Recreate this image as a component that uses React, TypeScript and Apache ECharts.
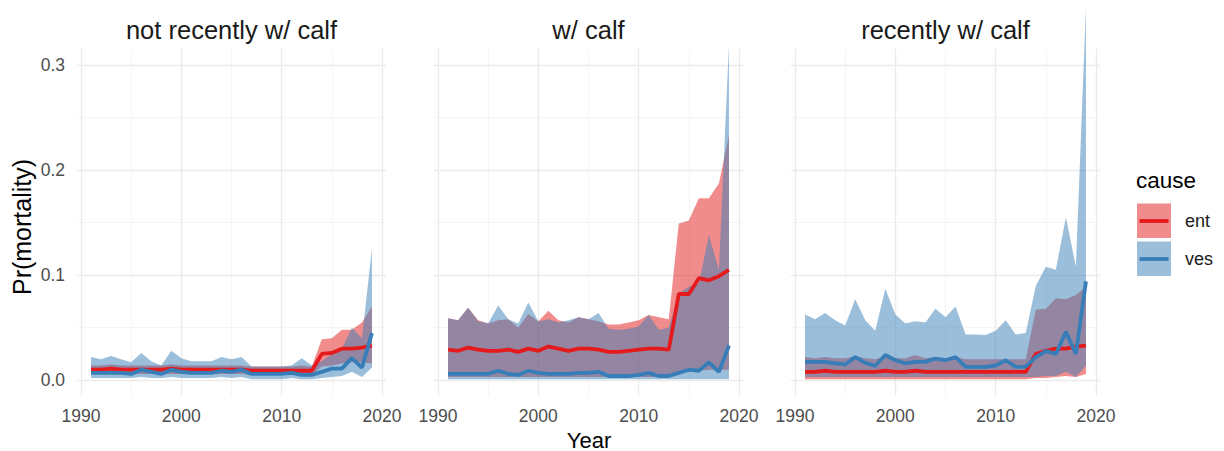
import React, { useEffect, useRef } from "react";
import * as echarts from "echarts";

const FONT = "'Liberation Sans', Arial, sans-serif";

const years = [1991, 1992, 1993, 1994, 1995, 1996, 1997, 1998, 1999, 2000, 2001, 2002, 2003, 2004, 2005, 2006, 2007, 2008, 2009, 2010, 2011, 2012, 2013, 2014, 2015, 2016, 2017, 2018, 2019];
const facetTitles = ["not recently w/ calf", "w/ calf", "recently w/ calf"];
const causes = ["ent", "ves"];
const xTicks = [1990, 2000, 2010, 2020];
const yTicks = [0, 0.1, 0.2, 0.3];
const xMinor = [1995, 2005, 2015];
const yMinor = [0.05, 0.15, 0.25];

// Panel 1: not recently w/ calf
const ent1 = [0.010, 0.010, 0.011, 0.010, 0.010, 0.010, 0.010, 0.010, 0.011, 0.010, 0.010, 0.010, 0.010, 0.010, 0.010, 0.010, 0.009, 0.009, 0.009, 0.009, 0.009, 0.009, 0.009, 0.025, 0.026, 0.030, 0.030, 0.031, 0.033];
const ent1Hi = [0.014, 0.014, 0.015, 0.014, 0.014, 0.014, 0.014, 0.014, 0.015, 0.014, 0.014, 0.014, 0.014, 0.014, 0.014, 0.014, 0.013, 0.013, 0.013, 0.013, 0.013, 0.014, 0.013, 0.039, 0.040, 0.048, 0.048, 0.055, 0.070];
const ent1Lo = [0.006, 0.006, 0.006, 0.006, 0.006, 0.006, 0.006, 0.006, 0.006, 0.006, 0.006, 0.006, 0.006, 0.006, 0.006, 0.006, 0.005, 0.005, 0.005, 0.005, 0.005, 0.005, 0.005, 0.013, 0.014, 0.016, 0.017, 0.017, 0.016];
const ves1 = [0.007, 0.007, 0.007, 0.007, 0.006, 0.010, 0.008, 0.006, 0.010, 0.008, 0.007, 0.007, 0.007, 0.009, 0.008, 0.010, 0.006, 0.006, 0.006, 0.006, 0.007, 0.005, 0.005, 0.008, 0.011, 0.011, 0.021, 0.012, 0.045];
const ves1Hi = [0.022, 0.020, 0.023, 0.020, 0.017, 0.026, 0.018, 0.014, 0.028, 0.021, 0.018, 0.018, 0.018, 0.022, 0.020, 0.022, 0.013, 0.013, 0.013, 0.013, 0.014, 0.021, 0.014, 0.018, 0.025, 0.030, 0.050, 0.040, 0.125];
const ves1Lo = [0.002, 0.002, 0.002, 0.002, 0.002, 0.003, 0.002, 0.002, 0.003, 0.002, 0.002, 0.002, 0.002, 0.003, 0.002, 0.003, 0.001, 0.001, 0.001, 0.001, 0.002, 0.001, 0.001, 0.002, 0.003, 0.004, 0.008, 0.003, 0.012];

// Panel 2: w/ calf
const ent2 = [0.029, 0.028, 0.031, 0.029, 0.028, 0.028, 0.029, 0.027, 0.030, 0.028, 0.032, 0.030, 0.028, 0.030, 0.030, 0.029, 0.027, 0.027, 0.028, 0.029, 0.030, 0.030, 0.029, 0.082, 0.082, 0.097, 0.095, 0.099, 0.105];
const ent2Hi = [0.059, 0.057, 0.069, 0.057, 0.054, 0.057, 0.058, 0.050, 0.063, 0.056, 0.066, 0.057, 0.055, 0.060, 0.058, 0.056, 0.053, 0.053, 0.055, 0.057, 0.062, 0.060, 0.058, 0.149, 0.152, 0.173, 0.173, 0.187, 0.233];
const ent2Lo = [0.003, 0.003, 0.003, 0.003, 0.003, 0.003, 0.003, 0.003, 0.003, 0.003, 0.003, 0.003, 0.003, 0.003, 0.003, 0.003, 0.003, 0.003, 0.003, 0.003, 0.003, 0.003, 0.003, 0.008, 0.008, 0.009, 0.010, 0.010, 0.010];
const ves2 = [0.006, 0.006, 0.006, 0.006, 0.006, 0.009, 0.006, 0.005, 0.009, 0.007, 0.006, 0.006, 0.006, 0.007, 0.007, 0.008, 0.004, 0.004, 0.004, 0.005, 0.007, 0.004, 0.004, 0.007, 0.010, 0.009, 0.017, 0.008, 0.033];
const ves2Hi = [0.059, 0.057, 0.069, 0.056, 0.054, 0.071, 0.058, 0.054, 0.074, 0.056, 0.058, 0.055, 0.057, 0.060, 0.058, 0.064, 0.049, 0.048, 0.049, 0.051, 0.062, 0.048, 0.050, 0.083, 0.089, 0.092, 0.138, 0.105, 0.319];
const ves2Lo = [0.001, 0.001, 0.001, 0.001, 0.001, 0.001, 0.001, 0.001, 0.001, 0.001, 0.001, 0.001, 0.001, 0.001, 0.001, 0.001, 0.001, 0.001, 0.001, 0.001, 0.001, 0.001, 0.001, 0.001, 0.001, 0.001, 0.001, 0.001, 0.001];

// Panel 3: recently w/ calf
const ent3 = [0.008, 0.008, 0.009, 0.008, 0.008, 0.008, 0.008, 0.008, 0.009, 0.008, 0.008, 0.009, 0.008, 0.008, 0.008, 0.008, 0.008, 0.008, 0.008, 0.008, 0.008, 0.008, 0.008, 0.025, 0.028, 0.030, 0.030, 0.032, 0.033];
const ent3Hi = [0.022, 0.021, 0.022, 0.021, 0.021, 0.023, 0.021, 0.020, 0.023, 0.021, 0.021, 0.024, 0.021, 0.022, 0.021, 0.022, 0.020, 0.020, 0.020, 0.020, 0.020, 0.020, 0.020, 0.067, 0.068, 0.078, 0.077, 0.081, 0.089];
const ent3Lo = [0.001, 0.001, 0.001, 0.001, 0.001, 0.001, 0.001, 0.001, 0.001, 0.001, 0.001, 0.001, 0.001, 0.001, 0.001, 0.001, 0.001, 0.001, 0.001, 0.001, 0.001, 0.001, 0.001, 0.002, 0.002, 0.003, 0.004, 0.003, 0.006];
const ves3 = [0.0175, 0.0175, 0.0175, 0.016, 0.015, 0.022, 0.0165, 0.0137, 0.024, 0.019, 0.016, 0.0175, 0.0175, 0.0206, 0.019, 0.022, 0.0127, 0.0127, 0.0127, 0.014, 0.019, 0.0127, 0.013, 0.022, 0.0276, 0.025, 0.046, 0.025, 0.094];
const ves3Hi = [0.0625, 0.058, 0.064, 0.057, 0.052, 0.077, 0.057, 0.047, 0.087, 0.0625, 0.054, 0.056, 0.055, 0.068, 0.060, 0.070, 0.0435, 0.0435, 0.043, 0.047, 0.057, 0.0435, 0.045, 0.0895, 0.108, 0.105, 0.155, 0.108, 0.355];
const ves3Lo = [0.003, 0.003, 0.003, 0.003, 0.003, 0.003, 0.003, 0.003, 0.003, 0.003, 0.003, 0.003, 0.003, 0.003, 0.003, 0.003, 0.003, 0.003, 0.003, 0.003, 0.003, 0.003, 0.003, 0.003, 0.004, 0.004, 0.008, 0.003, 0.014];

const panels = [
  { title: facetTitles[0], ent: [ent1, ent1Lo, ent1Hi], ves: [ves1, ves1Lo, ves1Hi] },
  { title: facetTitles[1], ent: [ent2, ent2Lo, ent2Hi], ves: [ves2, ves2Lo, ves2Hi] },
  { title: facetTitles[2], ent: [ent3, ent3Lo, ent3Hi], ves: [ves3, ves3Lo, ves3Hi] },
];

const RED = "#E41A1C";
const BLUE = "#377EB8";
const RED_FILL = "rgba(228,26,28,0.5)";
const BLUE_FILL = "rgba(55,126,184,0.5)";

const GRID_LEFTS = [77, 434, 791];
const GRID_TOP = 49;
const GRID_W = 309;
const GRID_H = 347;

function ribbon(i: number, lo: number[], hi: number[], fill: string) {
  return {
    type: "custom",
    xAxisIndex: i,
    yAxisIndex: i,
    silent: true,
    clip: false,
    z: 2,
    data: [[years[0], lo[0]]],
    renderItem: (params: any, api: any) => {
      const pts: number[][] = [];
      for (let k = 0; k < years.length; k++) pts.push(api.coord([years[k], hi[k]]));
      for (let k = years.length - 1; k >= 0; k--) pts.push(api.coord([years[k], lo[k]]));
      return { type: "polygon", shape: { points: pts }, style: { fill } };
    },
  };
}

function line(i: number, vals: number[], color: string) {
  return {
    type: "line",
    xAxisIndex: i,
    yAxisIndex: i,
    silent: true,
    showSymbol: false,
    symbol: "none",
    z: 3,
    lineStyle: { color, width: 3.8 },
    data: years.map((y, k) => [y, vals[k]]),
  };
}

function gridLines(i: number) {
  const major = { color: "#EBEBEB", width: 1.4, type: "solid" };
  const minor = { color: "#F2F2F2", width: 0.8, type: "solid" };
  return {
    type: "line",
    xAxisIndex: i,
    yAxisIndex: i,
    silent: true,
    z: 0,
    data: [],
    markLine: {
      silent: true,
      symbol: ["none", "none"],
      label: { show: false },
      z: 0,
      data: [
        ...xMinor.map((v) => ({ xAxis: v, lineStyle: minor })),
        ...yMinor.map((v) => ({ yAxis: v, lineStyle: minor })),
        ...xTicks.map((v) => ({ xAxis: v, lineStyle: major })),
        ...yTicks.map((v) => ({ yAxis: v, lineStyle: major })),
      ],
    },
  };
}

export default function App() {
  const ref = useRef<HTMLDivElement>(null);
  useEffect(() => {
    if (!ref.current) return;
    const chart = echarts.init(ref.current, undefined, { renderer: "svg" });
    const series: any[] = [];
    panels.forEach((p, i) => {
      series.push(gridLines(i));
      series.push(ribbon(i, p.ent[1], p.ent[2], RED_FILL));
      series.push(ribbon(i, p.ves[1], p.ves[2], BLUE_FILL));
      series.push(line(i, p.ent[0], RED));
      series.push(line(i, p.ves[0], BLUE));
    });
    const graphic: any[] = [];
    panels.forEach((p, i) => {
      graphic.push({
        type: "text",
        x: GRID_LEFTS[i] + GRID_W / 2,
        y: 30,
        style: { text: p.title, font: `25.5px ${FONT}`, fill: "#1A1A1A", align: "center", verticalAlign: "middle" },
      });
    });
    graphic.push({
      type: "text",
      x: 22,
      y: 227,
      rotation: Math.PI / 2,
      style: { text: "Pr(mortality)", font: `25px ${FONT}`, fill: "#000", align: "center", verticalAlign: "middle" },
    });
    graphic.push({
      type: "text",
      x: 589,
      y: 440,
      style: { text: "Year", font: `22px ${FONT}`, fill: "#000", align: "center", verticalAlign: "middle" },
    });
    // legend
    graphic.push({
      type: "text",
      x: 1136,
      y: 180,
      style: { text: "cause", font: `22.5px ${FONT}`, fill: "#000", align: "left", verticalAlign: "middle" },
    });
    const keys = [
      { label: causes[0], fill: RED_FILL, color: RED, y: 203.5 },
      { label: causes[1], fill: BLUE_FILL, color: BLUE, y: 241.5 },
    ];
    keys.forEach((k) => {
      graphic.push({ type: "rect", shape: { x: 1137, y: k.y, width: 34, height: 34.5 }, style: { fill: k.fill } });
      graphic.push({
        type: "line",
        shape: { x1: 1139.5, y1: k.y + 17.5, x2: 1168.5, y2: k.y + 17.5 },
        style: { stroke: k.color, lineWidth: 3.8 },
      });
      graphic.push({
        type: "text",
        x: 1185,
        y: k.y + 17,
        style: { text: k.label, font: `18px ${FONT}`, fill: "#1A1A1A", align: "left", verticalAlign: "middle" },
      });
    });

    chart.setOption({
      animation: false,
      backgroundColor: "#FFFFFF",
      textStyle: { fontFamily: FONT },
      grid: GRID_LEFTS.map((l) => ({ left: l, top: GRID_TOP, width: GRID_W, height: GRID_H, containLabel: false })),
      xAxis: GRID_LEFTS.map((_, i) => ({
        type: "value",
        gridIndex: i,
        min: 1989.6,
        max: 2020.4,
        axisLine: { show: false },
        axisTick: { show: false },
        splitLine: { show: false },
        axisLabel: {
          customValues: xTicks,
          color: "#4D4D4D",
          fontSize: 17.5,
          fontFamily: FONT,
          margin: 11,
          formatter: (v: number) => String(v),
        },
      })),
      yAxis: GRID_LEFTS.map((_, i) => ({
        type: "value",
        gridIndex: i,
        min: -0.015,
        max: 0.315,
        axisLine: { show: false },
        axisTick: { show: false },
        splitLine: { show: false },
        axisLabel: {
          show: i === 0,
          customValues: yTicks,
          color: "#4D4D4D",
          fontSize: 17.5,
          fontFamily: FONT,
          margin: 12,
          formatter: (v: number) => v.toFixed(1),
        },
      })),
      series,
      graphic,
    });
    return () => chart.dispose();
  }, []);
  return (
    <div
      ref={ref}
      style={{ position: "fixed", left: 0, top: 0, width: 1224, height: 451, background: "#fff" }}
    />
  );
}
